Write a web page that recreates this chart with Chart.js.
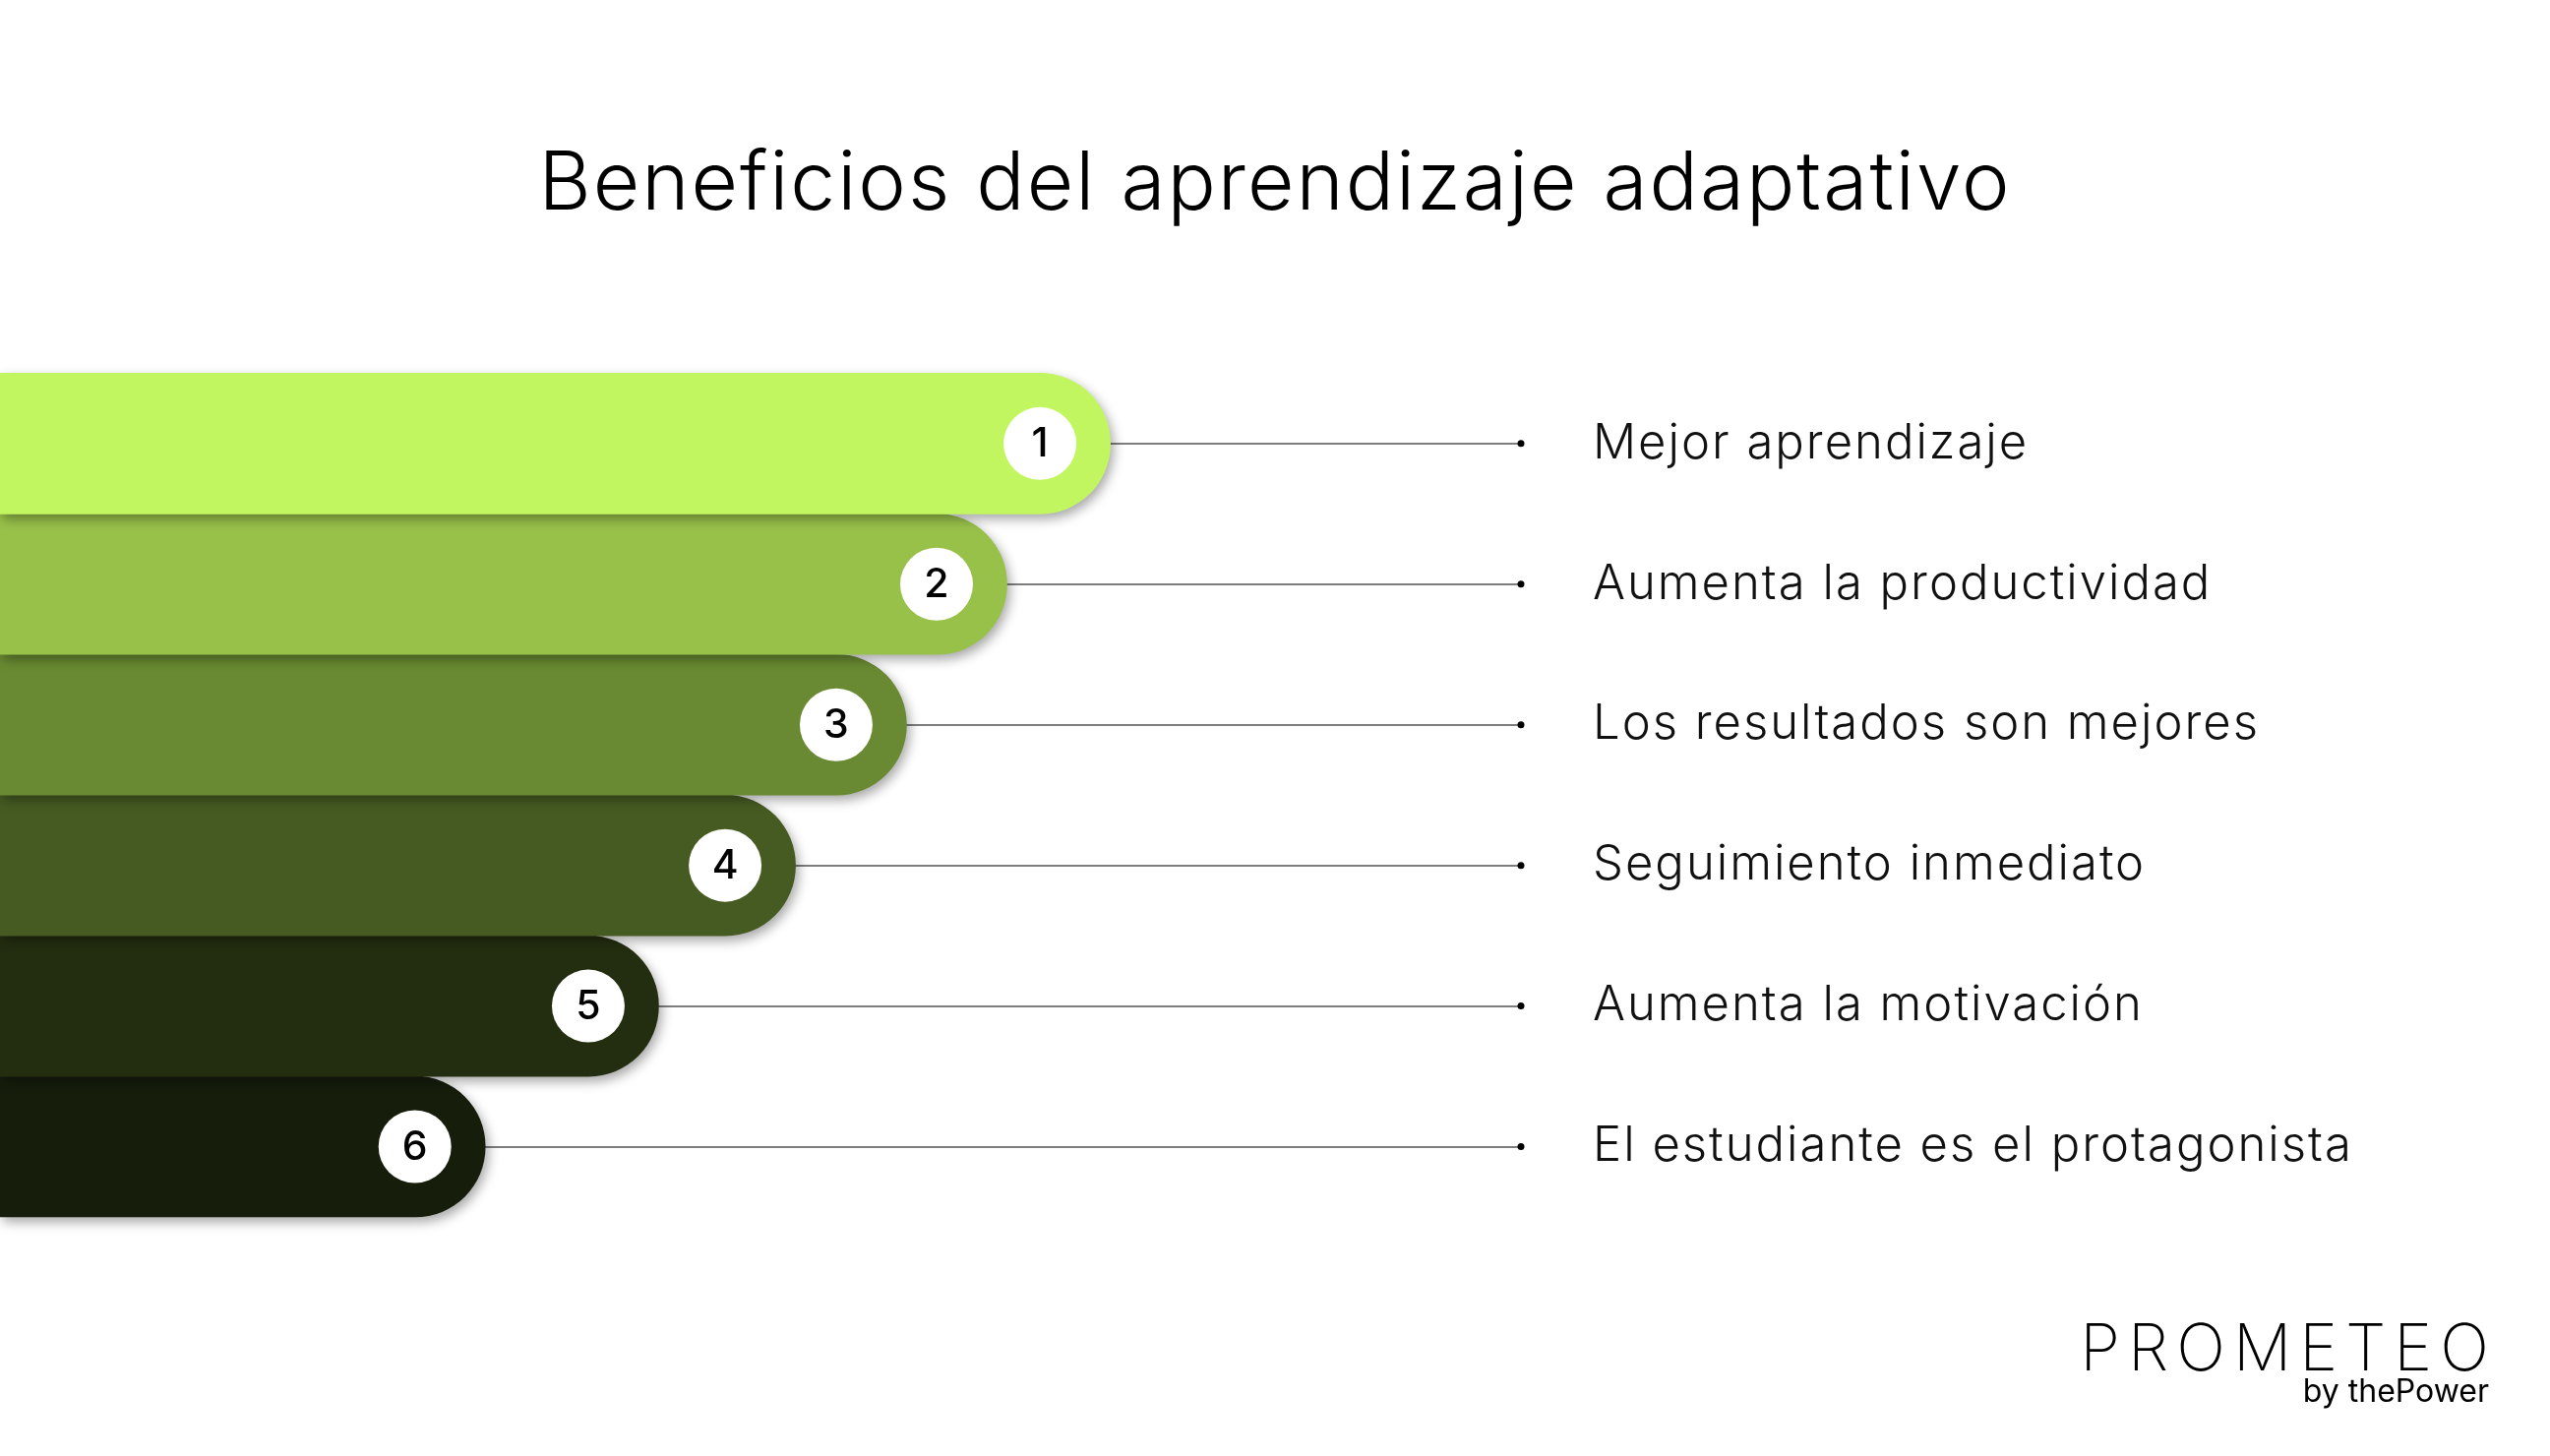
<!DOCTYPE html>
<html lang="es">
<head>
<meta charset="utf-8">
<title>Beneficios del aprendizaje adaptativo</title>
<script src="https://cdn.jsdelivr.net/npm/chart.js@4.4.1/dist/chart.umd.min.js"></script>
<style>
    html, body { margin: 0; padding: 0; background: #fff; }
    #wrap { position: relative; width: 2592px; height: 1480px; overflow: hidden; }
    #chart { position: absolute; left: 0; top: 0; }
    .logo { position: absolute; right: 62px; font-family: Inter, 'Noto Sans', sans-serif; color: #000; text-align: right; }
    .logo .name { position: absolute; right: -8px; top: 1329px; font-size: 66px; font-weight: 200; letter-spacing: 8px; white-space: nowrap; }
    .logo .by { position: absolute; right: 0; top: 1394px; font-size: 32px; font-weight: 400; white-space: nowrap; }
</style>
</head>
<body>
<div id="wrap">
    <canvas id="chart" width="2592" height="1480"></canvas>
    <div class="logo"><div class="name">PROMETEO</div><div class="by">by thePower</div></div>
</div>
<script>
const title = 'Beneficios del aprendizaje adaptativo';
const benefits = [
    'Mejor aprendizaje',
    'Aumenta la productividad',
    'Los resultados son mejores',
    'Seguimiento inmediato',
    'Aumenta la motivación',
    'El estudiante es el protagonista'
];
const steps = ['1', '2', '3', '4', '5', '6'];
const lengths = [73.0, 66.2, 59.6, 52.3, 43.3, 31.9];

const barColors = ['#C2F661', '#98C14A', '#698A32', '#465B22', '#232E10', '#161D0B'];

document.addEventListener('DOMContentLoaded', () => {
    Chart.defaults.font.family = "Inter, 'Noto Sans', sans-serif";

    // wider text, closer to the original geometric face
    const spacing = {
        id: 'spacing',
        beforeDraw(chart) { chart.ctx.letterSpacing = '2px'; },
        beforeDatasetsDraw(chart) { chart.ctx.letterSpacing = '0px'; }
    };

    // bars drawn bottom-up so each one's shadow falls on the one below
    const pills = {
        id: 'pills',
        beforeDatasetDraw(chart, args) {
            const ctx = chart.ctx;
            const bars = args.meta.data;
            ctx.save();
            ctx.shadowColor = 'rgba(0, 0, 0, 0.35)';
            ctx.shadowBlur = 12;
            ctx.shadowOffsetX = 3;
            ctx.shadowOffsetY = 5;
            for (let i = bars.length - 1; i >= 0; i--) {
                bars[i].draw(ctx);
            }
            ctx.restore();
            return false;
        },
        afterDatasetsDraw(chart) {
            const ctx = chart.ctx;
            const bars = chart.getDatasetMeta(0).data;
            const right = chart.chartArea.right;
            ctx.save();
            bars.forEach((bar, i) => {
                const cx = bar.x - bar.height / 2;
                ctx.beginPath();
                ctx.arc(cx, bar.y, 37, 0, Math.PI * 2);
                ctx.fillStyle = '#fff';
                ctx.fill();
                ctx.fillStyle = '#000';
                ctx.font = "500 41px Inter, 'Noto Sans', sans-serif";
                ctx.textAlign = 'center';
                ctx.textBaseline = 'middle';
                ctx.fillText(steps[i], cx, bar.y + 1);

                ctx.beginPath();
                ctx.arc(right, bar.y, 3.5, 0, Math.PI * 2);
                ctx.fill();
            });
            ctx.restore();
        }
    };

    new Chart(document.getElementById('chart'), {
        type: 'bar',
        data: {
            labels: benefits,
            datasets: [{
                data: lengths,
                backgroundColor: barColors,
                borderWidth: 0,
                borderRadius: 999,
                borderSkipped: 'start',
                barPercentage: 1,
                categoryPercentage: 1
            }]
        },
        options: {
            indexAxis: 'y',
            responsive: false,
            animation: false,
            layout: { padding: { left: 0, right: 0, top: 0, bottom: 243 } },
            scales: {
                x: { display: false, min: 0, max: 100 },
                y: {
                    position: 'right',
                    afterFit: (scale) => { scale.width = 1046; },
                    border: { display: false },
                    grid: { offset: false, drawTicks: false, color: '#7d7d7d', lineWidth: 2 },
                    ticks: {
                        padding: 73,
                        color: '#111',
                        font: { size: 49, weight: 300 }
                    }
                }
            },
            plugins: {
                legend: { display: false },
                tooltip: { enabled: false },
                title: {
                    display: true,
                    text: title,
                    color: '#000',
                    font: { size: 82, weight: 300 },
                    padding: { top: 139, bottom: 142 }
                }
            }
        },
        plugins: [spacing, pills]
    });
});
</script>
</body>
</html>
